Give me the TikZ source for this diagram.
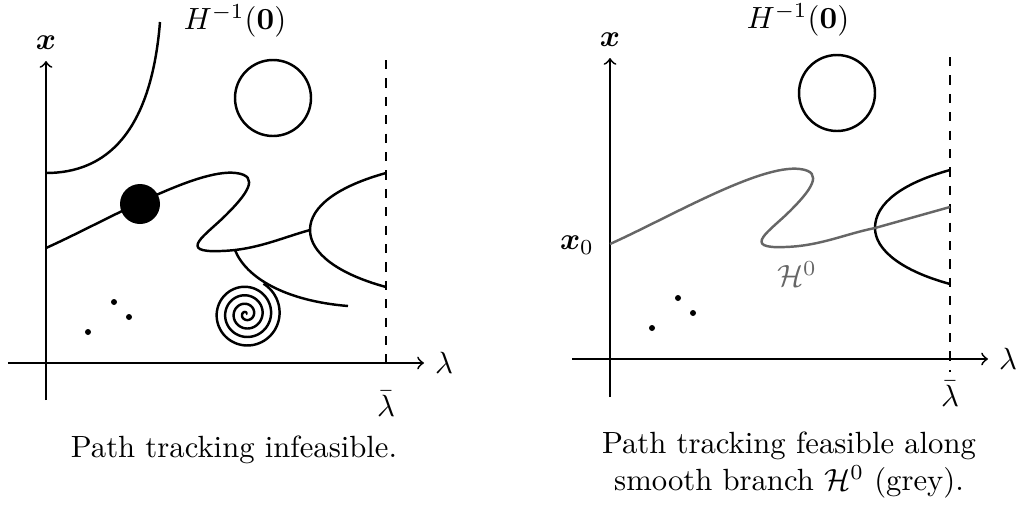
\documentclass[tikz,border=0pt]{standalone}
\usepackage{amsmath}
\usepackage{amssymb}
\usetikzlibrary{arrows}
\tikzset{
    axis/.style={semithick, ->},
    curve/.style={thick},
    branch/.style={thick, draw=black!60},
    limit/.style={thin, dashed},
    blob/.style={fill=black}
}

\begin{document}
\begin{tikzpicture}[x=0.326pt, y=0.326pt]
    \useasboundingbox (-46,-144) rectangle (972,363);

    % infeasible case
    \begin{scope}
    \draw [axis] (-38,0) -- (378,0) node (lamA) [right] {$\lambda$};
    \draw [axis] (0,-37) -- (0,302) node (xA) [above] {$\boldsymbol{x}$};
    \draw [limit] (340,303) -- (340,-9);
    \node (lbarA) at (340,-41) {$\bar{\lambda}$};
    \node (hA) [inner sep=0pt] at (189,342) {$H^{-1}(\mathbf{0})$};

    \draw [curve] (0,190) .. controls (60,190) and (105,230) .. (114,341);
    \draw [curve] (227,265) circle (38);
    \draw [curve] (0,115) .. controls (60,142) and (150,195) .. (190,190)
        .. controls (215,187) and (200,168) .. (180,148)
        .. controls (160,128) and (130,110) .. (175,112)
        .. controls (210,113) and (235,125) .. (264,133);
    \draw [curve] (340,190) .. controls (293,177) and (264,157) .. (264,133)
        .. controls (264,110) and (292,89) .. (340,76);
    \draw [curve] (189,113) .. controls (200,85) and (240,62) .. (302,57);
    \draw [curve] plot [domain=0:1480, samples=320, smooth]
        ({200+\x/1480*35*cos(\x+20)}, {49+\x/1480*35*sin(\x+20)});

    \fill [blob] (94,159) circle (20);
    \fill [blob] (42,31) circle (3);
    \fill [blob] (68,61) circle (3);
    \fill [blob] (83,46) circle (3);

    \node (capA) at (188,-87) {Path tracking infeasible.};
    \end{scope}

    % feasible case
    \begin{scope}[shift={(564,4)}]
    \draw [axis] (-38,0) -- (378,0) node (lamB) [right] {$\lambda$};
    \draw [axis] (0,-38) -- (0,301) node (xB) [above] {$\boldsymbol{x}$};
    \draw [limit] (340,302) -- (340,-13);
    \node (lbarB) at (340,-35) {$\bar{\lambda}$};
    \node (hB) [inner sep=0pt] at (188,339) {$H^{-1}(\mathbf{0})$};
    \node (x0) at (-33,114) {$\boldsymbol{x}_0$};

    \draw [curve] (227,266) circle (38);
    \draw [curve] (340,189) .. controls (293,176) and (265,156) .. (265,131)
        .. controls (265,109) and (292,88) .. (340,75);
    \draw [branch] (0,115) .. controls (60,142) and (150,195) .. (190,190)
        .. controls (215,187) and (200,168) .. (180,148)
        .. controls (160,128) and (130,110) .. (175,112)
        .. controls (210,113) and (235,125) .. (265,131)
        -- (340,152);
    \node (h0) [text=black!60] at (187,85) {$\mathcal{H}^0$};

    \fill [blob] (42,31) circle (3);
    \fill [blob] (68,61) circle (3);
    \fill [blob] (83,46) circle (3);

    \node (capB) [align=center] at (179,-106) {Path tracking feasible along\\ smooth branch $\mathcal{H}^0$ (grey).};
    \end{scope}
\end{tikzpicture}
\end{document}
